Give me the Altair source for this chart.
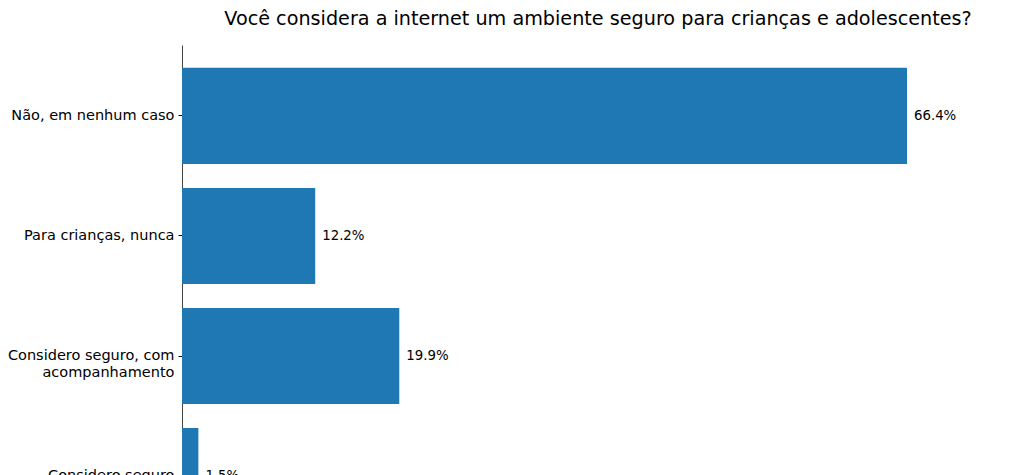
import pandas as pd
import altair as alt

# data
categorias = ['Não, em nenhum caso', 'Para crianças, nunca',
              'Considero seguro, com\nacompanhamento', 'Considero seguro']
percentuais = [66.4, 12.2, 19.9, 1.5]

df = pd.DataFrame({'resposta': categorias, 'pct': percentuais})

fonte = 'DejaVu Sans'
y_enc = alt.Y('resposta:N', sort=None, title=None,
              scale=alt.Scale(paddingInner=0.2, paddingOuter=0.19),
              axis=alt.Axis(labelExpr="split(datum.label, '\\n')",
                            labelFont=fonte, labelFontSize=14.5, labelColor='black',
                            labelPadding=4, labelLimit=300,
                            tickColor='black', tickSize=4,
                            domainColor='#444', domainWidth=1, grid=False))
x_enc = alt.X('pct:Q', title=None, scale=alt.Scale(domain=[0, 76.2], nice=False),
              axis=None)

barras = alt.Chart(df).mark_bar(color='#1f77b4').encode(x=x_enc, y=y_enc)

rotulos = (
    alt.Chart(df)
    .transform_calculate(rotulo="format(datum.pct, '.1f') + '%'")
    .mark_text(align='left', baseline='middle', dx=7, font=fonte, fontSize=13.3, color='black')
    .encode(x=x_enc, y=y_enc, text='rotulo:N')
)

chart = (
    alt.layer(barras, rotulos)
    .properties(width=832, height=502,
                autosize=alt.AutoSizeParams(type='none'),
                padding={'left': 174, 'top': 37, 'right': 0, 'bottom': 0},
                title=alt.TitleParams('Você considera a internet um ambiente seguro para crianças e adolescentes?',
                                      font=fonte, fontSize=19.2, fontWeight='normal',
                                      color='black', anchor='middle', offset=16))
    .configure_view(stroke=None)
)

chart.save('out.html', embed_options={'renderer': 'svg', 'actions': False})
